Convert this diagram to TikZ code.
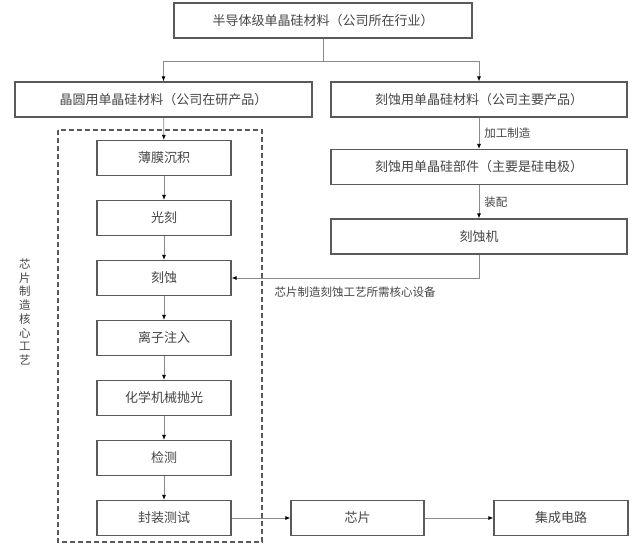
\documentclass[tikz,border=0pt]{standalone}
\usepackage{fontspec}
\usepackage{xcolor}
\usepackage{tikz}
\usetikzlibrary{arrows.meta}
\setmainfont{Noto Sans CJK SC}
\definecolor{boxline}{HTML}{5A5A5A}
\definecolor{conn}{HTML}{8A8A8A}
\definecolor{txt}{HTML}{454545}
\tikzset{
  box/.style={draw=boxline,line width=1.2pt,inner sep=0pt,text=txt,
    minimum height=35pt,font=\fontsize{13}{15}\selectfont},
  conn/.style={draw=conn,line width=0.8pt},
  lbl/.style={inner sep=1pt,text=txt,font=\fontsize{11.5}{13}\selectfont}
}

\begin{document}
\begin{tikzpicture}[x=1pt,y=-1pt,>={Latex[color=black,length=5pt,width=4pt]}]
    \fill[white] (0,0) rectangle (640,548);
    \useasboundingbox (0,0) rectangle (640,548);
    % top level
    \node[box,minimum width=298pt] (top) at (323,20.5)
      {半导体级单晶硅材料（公司所在行业）};
    \node[box,minimum width=297pt] (wafer) at (163.5,99.5)
      {晶圆用单晶硅材料（公司在研产品）};
    \node[box,minimum width=296pt] (etchmat) at (479,99.5)
      {刻蚀用单晶硅材料（公司主要产品）};
    \node[box,minimum width=296pt] (part) at (479,167)
      {刻蚀用单晶硅部件（主要是硅电极）};
    \node[box,minimum width=296pt] (etcher) at (479,236.5)
      {刻蚀机};
    % chip process steps
    \foreach \txt [count=\i] in
      {薄膜沉积,光刻,刻蚀,离子注入,化学机械抛光,检测,封装测试}
      \node[box,minimum width=134pt] (s\i) at (164,{98+60*\i}) {\txt};
    \node[box,minimum width=133pt] (chip) at (357.5,518) {芯片};
    \node[box,minimum width=134pt] (ic) at (561,518) {集成电路};
    \draw[boxline,line width=1.5pt,dash pattern=on 5pt off 3pt]
      (58,130) rectangle (262,542);
    \node[lbl,align=center,font=\fontsize{11.5}{13.7}\selectfont] (side)
      at (25,312) {芯\\片\\制\\造\\核\\心\\工\\艺};
    % connectors
    \coordinate (split) at (323,61);
    \draw[conn] (top) -- (split);
    \draw[conn,->] (split) -| (wafer.north);
    \draw[conn,->] (split) -| (etchmat.north);
    \draw[conn,->] (wafer) -- (s1);
    \foreach \i [evaluate=\i as \j using int(\i+1)] in {1,...,6}
      \draw[conn,->] (s\i) -- (s\j);
    \draw[conn,->] (etchmat) --
      node[lbl,right,xshift=4pt] (lab1) {加工制造} (part);
    \draw[conn,->] (etcher.south) |- (s3.east);
    \draw[conn,->] (part) --
      node[lbl,right,xshift=4pt] (lab2) {装配} (etcher);
    \node[lbl] (lab3) at (355,292) {芯片制造刻蚀工艺所需核心设备};
    \draw[conn,->] (s7) -- (chip);
    \draw[conn,->] (chip) -- (ic);
  \end{tikzpicture}
\end{document}
